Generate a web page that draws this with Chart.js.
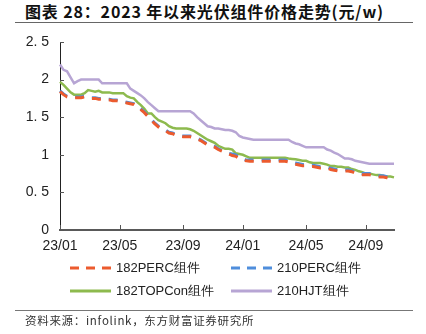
<!DOCTYPE html>
<html>
<head>
<meta charset="utf-8">
<script src="https://cdn.jsdelivr.net/npm/chart.js@4/dist/chart.umd.min.js"></script>
<style>
  body { margin: 0; background: #fff; }
  #wrap { position: relative; width: 426px; height: 334px; overflow: hidden; font-family: "Liberation Sans", Arial, sans-serif; }
  #title { position: absolute; left: 15px; top: 0; width: 398px; height: 23px; border-bottom: 1.5px solid #666;
           font-family: "Noto Sans CJK SC", sans-serif; font-weight: bold; font-size: 16px; letter-spacing: 0.85px; line-height: 23px; color: #111; padding-left: 10px; box-sizing: border-box; }
  #chart { position: absolute; left: 0; top: 0; }
  #legend { position: absolute; left: 70px; top: 258px; display: grid; grid-template-columns: 161px 160px; row-gap: 3px; }
  .item { display: flex; align-items: center; height: 20px; font-size: 13px; color: #222; }
  .item svg { margin-right: 5px; }
  #source { position: absolute; left: 15px; top: 310px; width: 398px; border-top: 1.5px solid #777; padding-left: 10px; box-sizing: border-box;
            font-family: "Noto Sans CJK SC", sans-serif; font-size: 11.5px; letter-spacing: 0.7px; color: #333; line-height: 18px; }
</style>
</head>
<body>
<div id="wrap">
  <div id="title">图表 28：2023 年以来光伏组件价格走势(元/w)</div>
  <canvas id="chart" width="426" height="334"></canvas>
  <div id="legend"></div>
  <div id="source">资料来源：infolink，东方财富证券研究所</div>
</div>
<script>
// series names and colours
var seriesNames = ["182PERC组件", "210PERC组件", "182TOPCon组件", "210HJT组件"];
var seriesColors = ["#EC5B2E", "#4F8EDC", "#8DBA4E", "#B7A5D4"];

// x-axis tick labels and the week index where each sits
var tickLabels = ["23/01", "23/05", "23/09", "24/01", "24/05", "24/09"];
var tickIndex = [0, 17, 35, 52, 70, 87];

// weekly prices (元/W), starting first week of 2023
var perc182 = [1.84,1.80,1.77,1.76,1.76,1.76,1.76,1.77,1.76,1.75,1.75,1.74,1.74,1.73,1.73,1.72,1.72,1.71,1.70,1.69,
  1.68,1.67,1.64,1.60,1.56,1.51,1.46,1.41,1.37,1.34,1.32,1.29,1.28,1.26,1.25,1.24,1.24,1.24,1.23,1.21,
  1.19,1.16,1.13,1.11,1.10,1.07,1.05,1.03,1.01,0.99,0.98,0.95,0.93,0.92,
  0.915,0.915,0.915,0.915,0.915,0.915,0.915,0.915,0.915,0.915,0.915,
  0.905,0.885,0.875,0.865,0.855,0.855,0.845,0.845,0.835,0.825,0.825,0.825,0.805,0.795,0.785,0.785,0.785,0.785,
  0.775,0.755,0.745,0.735,0.735,0.735,0.725,0.715,0.705,0.705,0.695,0.685,0.675];
var perc210 = [1.85,1.81,1.78,1.77,1.77,1.77,1.77,1.78,1.77,1.76,1.76,1.75,1.75,1.74,1.74,1.73,1.73,1.72,1.71,1.70,
  1.69,1.68,1.65,1.61,1.57,1.52,1.47,1.42,1.38,1.35,1.33,1.30,1.29,1.27,1.26,1.25,1.25,1.25,1.24,1.22,
  1.20,1.17,1.14,1.12,1.11,1.08,1.06,1.04,1.02,1.01,1.00,0.96,0.95,0.93,
  0.93,0.93,0.93,0.93,0.93,0.93,0.93,0.93,0.93,0.93,0.93,
  0.92,0.90,0.89,0.88,0.87,0.87,0.86,0.86,0.85,0.84,0.84,0.84,0.82,0.81,0.80,0.80,0.80,0.80,
  0.79,0.77,0.76,0.75,0.75,0.75,0.74,0.73,0.72,0.72,0.71,0.70,0.69];
var topcon182 = [1.97,1.93,1.88,1.83,1.80,1.80,1.80,1.82,1.86,1.85,1.84,1.85,
  1.83,1.83,1.83,1.82,1.82,1.82,1.82,
  1.78,1.76,1.75,1.70,1.66,1.61,1.55,1.55,1.50,1.46,1.44,1.42,1.38,1.36,1.35,1.35,1.35,1.35,1.34,
  1.32,1.29,1.26,1.23,1.20,1.18,1.16,1.12,1.10,1.08,1.08,1.07,1.02,1.01,1.00,0.98,0.96,
  0.96,0.96,0.96,0.96,0.96,0.96,0.96,0.96,0.96,0.96,
  0.95,0.945,0.94,0.93,0.92,0.92,0.90,0.89,0.89,0.89,0.88,0.87,0.85,0.85,0.84,0.84,0.83,0.83,
  0.81,0.80,0.78,0.77,0.75,0.75,0.74,0.73,0.73,0.72,0.71,0.71,0.70];
var hjt210 = [2.20,2.13,2.11,2.03,1.95,1.98,2.00,2.00,2.00,2.00,2.00,2.00,
  1.95,1.95,1.95,1.95,1.95,1.95,1.95,1.95,
  1.88,1.85,1.82,1.79,1.75,1.70,1.66,1.62,1.58,
  1.58,1.58,1.58,1.58,1.58,1.58,1.58,1.58,1.58,
  1.55,1.50,1.46,1.42,1.38,1.37,1.35,1.35,1.34,1.33,1.33,1.32,1.30,1.25,1.23,1.22,1.21,
  1.20,1.20,1.20,1.20,1.20,1.20,1.20,1.20,1.20,1.20,1.20,
  1.17,1.15,1.14,1.12,
  1.10,1.10,1.10,1.10,1.10,1.10,
  1.07,1.055,1.03,1.01,0.98,0.95,0.95,0.94,0.92,0.91,0.90,0.89,
  0.88,0.88,0.88,0.88,0.88,0.88,0.88,0.88];

// weekly category labels
var weeks = [];
var d = new Date(2023, 0, 2);
for (var i = 0; i < perc182.length; i++) {
  weeks.push(d.getFullYear() + "-" + (d.getMonth() + 1) + "-" + d.getDate());
  d.setDate(d.getDate() + 7);
}

var dashed = [true, true, false, false];
var allData = [perc182, perc210, topcon182, hjt210];

// tick marks point inward, so draw them after the chart
var innerTicks = {
  id: "innerTicks",
  afterDraw: function (chart) {
    var c = chart.ctx, xs = chart.scales.x, ys = chart.scales.y, area = chart.chartArea;
    c.save();
    c.strokeStyle = "#555";
    c.lineWidth = 1;
    tickIndex.forEach(function (idx) {
      var px = Math.round(xs.getPixelForValue(idx)) + 0.5;
      c.beginPath(); c.moveTo(px, area.bottom); c.lineTo(px, area.bottom - 5); c.stroke();
    });
    ys.ticks.forEach(function (t) {
      var py = Math.round(ys.getPixelForValue(t.value)) + 0.5;
      c.beginPath(); c.moveTo(area.left, py); c.lineTo(area.left + 4, py); c.stroke();
    });
    c.restore();
  }
};

var ctx = document.getElementById("chart").getContext("2d");
var chart = new Chart(ctx, {
  type: "line",
  data: {
    labels: weeks,
    datasets: seriesNames.map(function (name, k) {
      return {
        label: name,
        data: allData[k],
        borderColor: seriesColors[k],
        borderWidth: dashed[k] ? 3 : 2.5,
        borderDash: dashed[k] ? [9, 8] : [],
        pointRadius: 0,
        fill: false,
        tension: 0
      };
    })
  },
  options: {
    responsive: false,
    animation: false,
    layout: { padding: { left: 0, top: 42, right: 32, bottom: 84 } },
    plugins: { legend: { display: false }, tooltip: { enabled: false } },
    scales: {
      x: {
        grid: { display: false, drawTicks: false },
        border: { display: true, color: "#595959", width: 2 },
        afterFit: function (s) { s.height = 20; },
        ticks: {
          autoSkip: false, maxRotation: 0, padding: 8,
          color: "#222", font: { family: "Liberation Sans", size: 14 },
          callback: function (v, i) {
            var p = tickIndex.indexOf(i);
            return p >= 0 ? tickLabels[p] : "";
          }
        }
      },
      y: {
        min: 0, max: 2.5,
        grid: { display: false, drawTicks: false },
        border: { display: true, color: "#222", width: 1 },
        afterFit: function (s) { s.width = 60; },
        ticks: {
          stepSize: 0.5, padding: 11,
          color: "#222", font: { family: "Liberation Sans", size: 14 },
          callback: function (v) { return String(v).replace(".", ". "); }
        }
      }
    }
  },
  plugins: [innerTicks]
});

// legend laid out as a 2x2 grid
var legend = document.getElementById("legend");
seriesNames.forEach(function (name, k) {
  var item = document.createElement("div");
  item.className = "item";
  var dash = dashed[k] ? ' stroke-dasharray="9 7"' : "";
  item.innerHTML = '<svg width="41" height="6"><line x1="0" y1="3" x2="41" y2="3" stroke="' + seriesColors[k] +
    '" stroke-width="3"' + dash + '/></svg><span>' + name + '</span>';
  legend.appendChild(item);
});
</script>
</body>
</html>
